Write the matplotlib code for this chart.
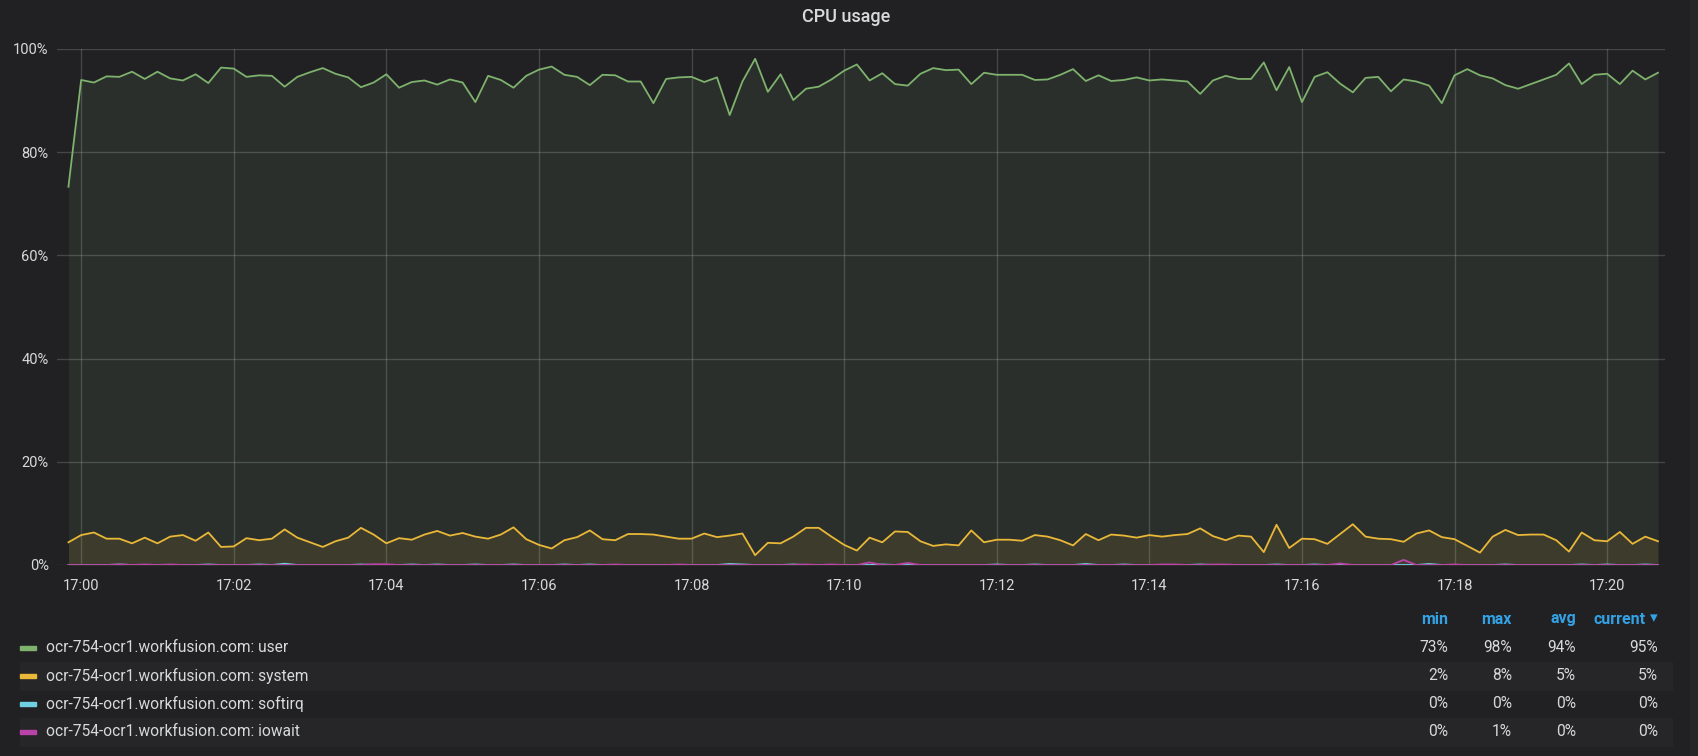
import numpy as np
import pandas as pd
import matplotlib
matplotlib.use("Agg")
import matplotlib.pyplot as plt
import matplotlib.dates as mdates
from matplotlib.patches import Rectangle

# cpu usage in %, one sample every 10 s starting 16:59:50
user = [73.3, 94.0, 93.5, 94.7, 94.6, 95.6, 94.2, 95.6, 94.3, 93.9,
        95.1, 93.4, 96.4, 96.2, 94.6, 94.9, 94.8, 92.7, 94.6, 95.5,
        96.3, 95.2, 94.5, 92.6, 93.5, 95.1, 92.5, 93.6, 93.9, 93.1,
        94.1, 93.5, 89.7, 94.8, 94.0, 92.5, 94.8, 96.0, 96.6, 95.0,
        94.6, 93.0, 95.0, 94.9, 93.7, 93.7, 89.5, 94.2, 94.5, 94.6,
        93.6, 94.5, 87.2, 93.7, 98.1, 91.7, 95.1, 90.1, 92.3, 92.7,
        94.1, 95.8, 97.0, 93.9, 95.3, 93.2, 92.9, 95.2, 96.3, 95.9,
        96.0, 93.2, 95.4, 95.0, 95.0, 95.0, 94.0, 94.1, 95.0, 96.1,
        93.8, 94.9, 93.8, 94.0, 94.5, 93.9, 94.1, 93.9, 93.7, 91.3,
        93.9, 94.8, 94.2, 94.2, 97.4, 92.0, 96.5, 89.7, 94.6, 95.5,
        93.3, 91.6, 94.4, 94.6, 91.8, 94.1, 93.7, 92.9, 89.5, 94.9,
        96.1, 94.9, 94.3, 93.0, 92.3, 93.2, 94.1, 95.0, 97.2, 93.2,
        95.0, 95.2, 93.2, 95.8, 94.1, 95.4]
system = [4.4, 5.8, 6.3, 5.1, 5.1, 4.2, 5.3, 4.2, 5.5, 5.8,
          4.7, 6.3, 3.5, 3.6, 5.2, 4.8, 5.1, 6.9, 5.3, 4.4,
          3.5, 4.6, 5.3, 7.2, 5.9, 4.2, 5.2, 4.9, 5.9, 6.6,
          5.7, 6.2, 5.5, 5.1, 5.9, 7.3, 5.0, 3.9, 3.2, 4.8,
          5.4, 6.7, 5.0, 4.8, 6.0, 6.0, 5.9, 5.5, 5.1, 5.1,
          6.1, 5.4, 5.7, 6.1, 1.9, 4.3, 4.2, 5.5, 7.2, 7.2,
          5.5, 3.9, 2.8, 5.3, 4.4, 6.5, 6.4, 4.6, 3.7, 4.0,
          3.8, 6.7, 4.4, 4.9, 4.9, 4.7, 5.8, 5.5, 4.8, 3.8,
          6.0, 4.8, 5.9, 5.7, 5.3, 5.8, 5.5, 5.8, 6.0, 7.1,
          5.6, 4.8, 5.7, 5.5, 2.5, 7.8, 3.3, 5.1, 5.0, 4.1,
          6.0, 7.9, 5.5, 5.1, 5.0, 4.5, 6.1, 6.7, 5.4, 5.0,
          3.7, 2.4, 5.5, 6.8, 5.8, 5.9, 5.9, 4.8, 2.6, 6.3,
          4.8, 4.6, 6.4, 4.1, 5.5, 4.6]
softirq = [0, 0, 0, 0, 0.1, 0, 0, 0, 0, 0,
           0, 0.1, 0, 0, 0, 0.1, 0, 0.25, 0, 0,
           0, 0, 0, 0.1, 0, 0, 0, 0.1, 0, 0.1,
           0, 0, 0.1, 0, 0, 0.1, 0, 0, 0, 0.1,
           0, 0.1, 0, 0, 0, 0, 0, 0, 0, 0,
           0, 0, 0.2, 0.1, 0, 0, 0, 0.1, 0, 0,
           0, 0, 0, 0, 0.1, 0, 0, 0, 0, 0,
           0, 0, 0, 0.1, 0, 0, 0.1, 0, 0, 0,
           0.2, 0, 0, 0.1, 0, 0, 0, 0, 0, 0.1,
           0, 0, 0, 0, 0, 0.1, 0, 0, 0.1, 0,
           0, 0, 0, 0, 0, 0, 0, 0.2, 0, 0,
           0, 0, 0, 0.1, 0, 0, 0, 0, 0, 0.1,
           0, 0.1, 0, 0, 0.1, 0]
iowait = [0, 0, 0, 0, 0.1, 0, 0.1, 0, 0.1, 0,
          0, 0, 0, 0, 0, 0, 0, 0, 0, 0,
          0, 0, 0, 0, 0.15, 0.15, 0, 0, 0, 0,
          0, 0, 0, 0, 0, 0, 0, 0, 0, 0,
          0, 0, 0, 0.1, 0, 0, 0, 0, 0.1, 0,
          0, 0, 0, 0, 0, 0, 0, 0, 0.1, 0,
          0.1, 0, 0, 0.5, 0, 0, 0.4, 0, 0, 0,
          0, 0, 0, 0, 0, 0, 0, 0, 0, 0,
          0, 0, 0, 0, 0, 0, 0.1, 0.1, 0, 0,
          0.1, 0.1, 0, 0, 0, 0, 0, 0, 0, 0,
          0.3, 0, 0, 0, 0, 1.0, 0, 0, 0, 0.1,
          0, 0, 0, 0, 0, 0, 0, 0, 0, 0,
          0, 0, 0, 0, 0, 0]

host = "ocr-754-ocr1.workfusion.com"
names = ["user", "system", "softirq", "iowait"]
colors = ["#7eb26d", "#eab839", "#6ed0e0", "#ba43a9"]
stat_names = ["min", "max", "avg", "current"]

BG = "#212124"
ROW_BG = "#262628"
TEXT = "#d8d9da"
HEAD = "#33a2e5"
W, H = 1698, 756

plt.rcParams["font.family"] = ["Roboto", "DejaVu Sans"]

times = pd.date_range("2019-05-14 16:59:50", periods=len(user), freq="10s")
series = [user, system, softirq, iowait]

fig = plt.figure(figsize=(W / 100, H / 100), dpi=100, facecolor=BG)

def fx(x):
    return x / W

def fy(y):
    return 1 - y / H

# right hand strip of the dashboard
fig.patches.append(Rectangle((fx(1690), 0), fx(8), 1, transform=fig.transFigure,
                             color=ROW_BG, zorder=0))

ax = fig.add_axes([fx(57), fy(565), fx(1665 - 57), (565 - 49) / H])
ax.set_facecolor(BG)

for vals, c in zip(series, colors):
    ax.fill_between(times, 0, vals, color=c, alpha=0.1, linewidth=0)
for vals, c in zip(series, colors):
    ax.plot(times, vals, color=c, lw=1.3)

ax.set_ylim(0, 100)
ax.set_xlim(times[0] - pd.Timedelta(seconds=9), times[-1] + pd.Timedelta(seconds=5.5))
ax.set_yticks(range(0, 101, 20))
ax.yaxis.set_major_formatter(plt.FuncFormatter(lambda v, p: f"{v:.0f}%"))
ax.xaxis.set_major_locator(mdates.MinuteLocator(byminute=range(0, 60, 2)))
ax.xaxis.set_major_formatter(mdates.DateFormatter("%H:%M"))
ax.tick_params(length=0, colors=TEXT, labelsize=10.5)
ax.tick_params(axis="y", pad=6)
ax.tick_params(axis="x", pad=10)
ax.grid(True, color="white", alpha=0.17, lw=1)
ax.set_axisbelow(True)
for s in ax.spines.values():
    s.set_visible(False)

fig.text(fx(846), fy(17), "CPU usage", ha="center", va="center", color=TEXT,
         fontsize=13, fontweight="medium")

# legend table
col_x = [1448, 1512, 1576, 1658]
for cx, name in zip(col_x, stat_names):
    if name == "current":
        fig.text(fx(cx), fy(618), "▾", ha="right", va="center", color=HEAD,
                 fontsize=11, family=["DejaVu Sans"])
        cx = cx - 12
    fig.text(fx(cx), fy(619), name, ha="right", va="center", color=HEAD,
             fontsize=11.5, fontweight="bold")

row_y = [648, 676, 704, 732]
for k, (vals, c, name) in enumerate(zip(series, colors, names)):
    y = row_y[k]
    if k % 2 == 1:
        fig.patches.append(Rectangle((fx(20), fy(y + 14)), fx(1672 - 20), 28 / H,
                                     transform=fig.transFigure, color=ROW_BG, zorder=0))
    fig.patches.append(Rectangle((fx(20), fy(y + 2)), fx(16), 4 / H,
                                 transform=fig.transFigure, color=c, zorder=1))
    fig.text(fx(46), fy(y), f"{host}: {name}", ha="left", va="center", color=TEXT,
             fontsize=11.2)
    arr = np.array(vals)
    stats = [arr.min(), arr.max(), arr.mean(), arr[-1]]
    for cx, v in zip(col_x, stats):
        fig.text(fx(cx), fy(y), f"{v:.0f}%", ha="right", va="center", color=TEXT,
                 fontsize=11.2)

fig.savefig("out.png", dpi=100, facecolor=BG)
